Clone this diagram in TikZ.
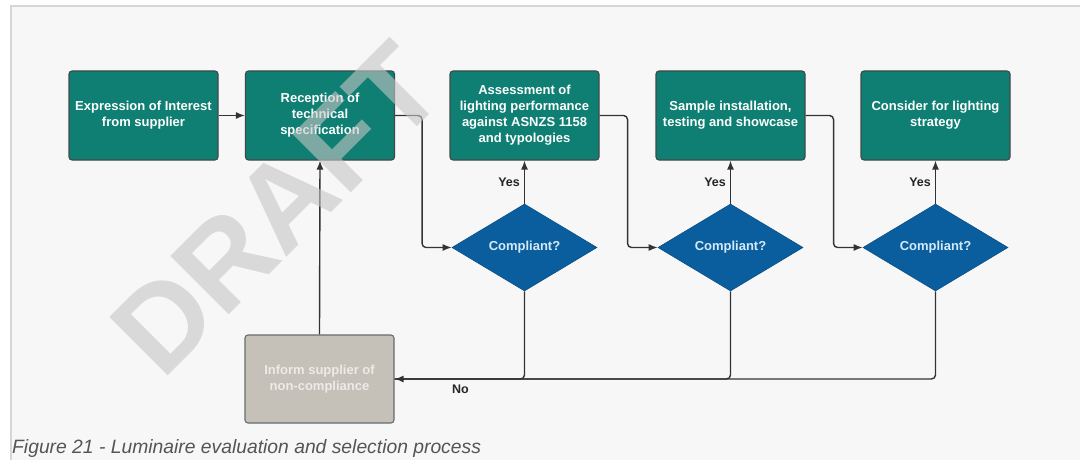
\documentclass[tikz,border=0pt]{standalone}
\usepackage{fontspec}
\setmainfont{Liberation Sans}
\usetikzlibrary{shapes.geometric,arrows.meta,calc}
\definecolor{tealbox}{HTML}{0F7F73}
\definecolor{boxedge}{HTML}{3F4A48}
\definecolor{bluedia}{HTML}{0B5E9E}
\definecolor{diaedge}{HTML}{0A4E85}
\definecolor{diatext}{HTML}{D4EAF8}
\definecolor{graybox}{HTML}{C5C0B8}
\definecolor{graytext}{HTML}{EEEBE7}
\definecolor{linec}{HTML}{333333}
\definecolor{bgc}{HTML}{F7F7F7}
\definecolor{framec}{HTML}{D6D6D6}
\definecolor{wmgray}{HTML}{C5C5C5}
\definecolor{captc}{HTML}{555555}
\tikzset{
  stepbox/.style={rectangle, rounded corners=3pt, fill=tealbox, draw=boxedge, line width=1.1pt,
    minimum width=149pt, minimum height=89pt, text=white, align=center, inner sep=2pt,
    font=\bfseries\fontsize{13}{16}\selectfont},
  infobox/.style={stepbox, fill=graybox, draw=boxedge!80, text=graytext, minimum height=88pt},
  decide/.style={diamond, aspect=1.67, fill=bluedia, draw=diaedge, line width=0.6pt,
    minimum width=145pt, minimum height=87pt, inner sep=0pt, text=diatext,
    font=\bfseries\fontsize{13}{16}\selectfont},
  conn/.style={draw=linec, line width=1.4pt, rounded corners=4pt},
  arr/.style={conn, -{Latex[length=9pt,width=7pt]}},
  lbl/.style={font=\bfseries\fontsize{12.5}{14}\selectfont, text=black!85, inner sep=1pt},
  wm/.style={font=\bfseries\fontsize{120}{120}\selectfont, text=wmgray, text opacity=0.6, inner sep=0pt},
}
\begin{document}
\begin{tikzpicture}[x=1pt,y=-1pt]
\useasboundingbox (0,0) rectangle (1080,460);
\fill[white] (0,0) rectangle (1080,460);
\fill[bgc] (11,6) rectangle (1080,460);
\draw[framec, line width=1.2pt] (11,460) -- (11,6) -- (1080,6);

\node[stepbox] (b1) at (143.5,115.5) {Expression of Interest\\from supplier};
\node[stepbox] (b2) at (320,115.5) {Reception of\\technical\\specification};
\node[stepbox] (b3) at (524.5,115.5) {Assessment of\\lighting performance\\against ASNZS 1158\\and typologies};
\node[stepbox] (b4) at (730.5,115.5) {Sample installation,\\testing and showcase};
\node[stepbox] (b5) at (935.5,115.5) {Consider for lighting\\strategy};

\node[decide] (d1) at (524.5,247.5) {Compliant?};
\node[decide] (d2) at (730.5,247.5) {Compliant?};
\node[decide] (d3) at (935.5,247.5) {Compliant?};

\node[infobox] (inf) at (319.5,379) {Inform supplier of\\non-compliance};

\draw[arr] (b1.east) -- (b2.west);
\draw[arr] (b2.east) -- ++(27,0) |- (d1.west);
\draw[arr] (b3.east) -- ++(28,0) |- (d2.west);
\draw[arr] (b4.east) -- ++(28,0) |- (d3.west);

\draw[arr] (d1.north) -- node[lbl, left=3pt] {Yes} (b3.south);
\draw[arr] (d2.north) -- node[lbl, left=3pt] {Yes} (b4.south);
\draw[arr] (d3.north) -- node[lbl, left=3pt] {Yes} (b5.south);

\draw[conn] (d1.south) |- (inf.east);
\draw[conn] (d2.south) |- (inf.east);
\draw[arr] (d3.south) |- (inf.east);
\node[lbl] (no) at ($(inf.east)+(66,10)$) {No};

\draw[arr] (inf.north) -- (b2.south);

\node[wm, rotate=45, anchor=base west] (draft) at (162,382) {DRAFT};

\node[anchor=base west, inner sep=0pt, text=captc, font=\itshape\fontsize{19.3}{21}\selectfont] (cap) at (12,453) {Figure 21 - Luminaire evaluation and selection process};
\end{tikzpicture}
\end{document}
